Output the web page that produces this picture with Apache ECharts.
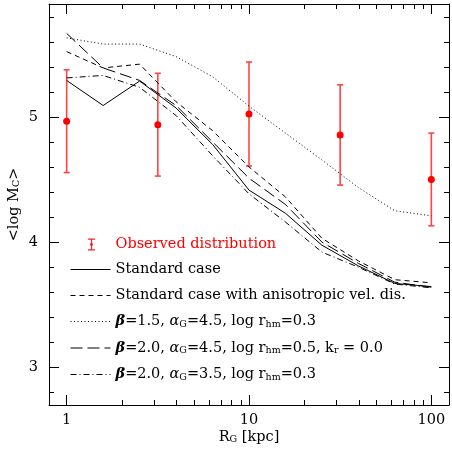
<!DOCTYPE html>
<html>
<head>
<meta charset="utf-8">
<script src="https://cdn.jsdelivr.net/npm/echarts@6/dist/echarts.min.js"></script>
<style>
  html, body { margin: 0; padding: 0; background: #fff; }
  #chart { width: 452px; height: 454px; }
</style>
</head>
<body>
<div id="chart"></div>
<script>
// galactocentric radius of the model bins (kpc)
const radius = [1, 1.585, 2.512, 3.981, 6.31, 10, 15.85, 25.12, 39.81, 63.1, 100]

const standardCase = [5.29, 5.09, 5.285, 5.07, 4.78, 4.415, 4.23, 3.975, 3.81, 3.67, 3.645]
const anisotropic = [5.52, 5.39, 5.42, 5.12, 4.89, 4.60, 4.36, 4.03, 3.85, 3.70, 3.675]
const beta15 = [5.63, 5.58, 5.58, 5.48, 5.32, 5.085, 4.87, 4.655, 4.435, 4.25, 4.21]
const beta20kr = [5.665, 5.39, 5.29, 5.09, 4.80, 4.51, 4.30, 4.00, 3.83, 3.68, 3.64]
const beta20a35 = [5.31, 5.33, 5.235, 5.01, 4.69, 4.385, 4.16, 3.92, 3.80, 3.665, 3.635]

// observed distribution: radius, mean and error
const obsRadius = [1, 3.162, 10, 31.62, 100]
const obsMean = [4.965, 4.937, 5.022, 4.855, 4.50]
const obsErr = [0.41, 0.41, 0.415, 0.40, 0.37]

const xLabels = [1, 10, 100]
const yLabels = [3, 4, 5]
const xMinor = [2, 3, 4, 5, 6, 7, 8, 9, 20, 30, 40, 50, 60, 70, 80, 90]
const yMinor = [2.8, 3.2, 3.4, 3.6, 3.8, 4.2, 4.4, 4.6, 4.8, 5.2, 5.4, 5.6, 5.8]

const X_MIN = 0.8
const X_MAX = 125
const Y_MIN = 2.7
const Y_MAX = 5.9

const FONT = 'DejaVu Serif'
const FS = 14.5

const rich = {
  t: { fontFamily: FONT, fontSize: FS, lineHeight: 16, color: '#000' },
  r: { fontFamily: FONT, fontSize: FS, lineHeight: 16, color: '#f00' },
  g: { fontFamily: FONT, fontSize: FS, lineHeight: 16, fontStyle: 'italic', color: '#000' },
  gb: { fontFamily: FONT, fontSize: FS, lineHeight: 16, fontStyle: 'italic', fontWeight: 'bold', color: '#000' },
  s: { fontFamily: FONT, fontSize: 9.5, lineHeight: 9, verticalAlign: 'bottom', color: '#000' }
}

const seriesNames = [
  'Standard case',
  'Standard case with anisotropic vel. dis.',
  'beta15',
  'beta20kr',
  'beta20a35'
]

const legendText = {
  'Observed distribution': '{r|Observed distribution}',
  'Standard case': '{t|Standard case}',
  'Standard case with anisotropic vel. dis.': '{t|Standard case with anisotropic vel. dis.}',
  beta15: '{gb|β}{t|=1.5, }{g|α}{s|G}{t|=4.5, log r}{s|hm}{t|=0.3}',
  beta20kr: '{gb|β}{t|=2.0, }{g|α}{s|G}{t|=4.5, log r}{s|hm}{t|=0.5, k}{s|r}{t| = 0.0}',
  beta20a35: '{gb|β}{t|=2.0, }{g|α}{s|G}{t|=3.5, log r}{s|hm}{t|=0.3}'
}

const pairs = (ys) => radius.map((x, i) => [x, ys[i]])

const lineSeries = (name, ys, type) => ({
  name,
  type: 'line',
  data: pairs(ys),
  showSymbol: false,
  symbol: 'none',
  silent: true,
  lineStyle: { color: '#000', width: 1, type },
  itemStyle: { color: 'rgba(0,0,0,0)', borderWidth: 0 }
})

const axisLine = { show: true, lineStyle: { color: '#000', width: 1 } }

const makeX = (position, showLabel) => ({
  type: 'log',
  logBase: 10,
  min: X_MIN,
  max: X_MAX,
  position,
  axisLine,
  axisTick: { show: true, inside: true, length: 10, lineStyle: { color: '#000' } },
  axisLabel: {
    show: showLabel,
    customValues: xLabels,
    margin: 8,
    fontFamily: FONT,
    fontSize: FS,
    color: '#000',
    formatter: (v) => String(Math.round(v))
  },
  splitLine: { show: false }
})

const makeY = (position, showLabel) => ({
  type: 'value',
  min: Y_MIN,
  max: Y_MAX,
  splitNumber: 3,
  position,
  axisLine,
  axisTick: { show: true, inside: true, length: 10, lineStyle: { color: '#000' } },
  axisLabel: {
    show: showLabel,
    customValues: yLabels,
    margin: 11,
    fontFamily: FONT,
    fontSize: FS,
    color: '#000'
  },
  splitLine: { show: false }
})

const xAxes = [makeX('bottom', true), makeX('top', false)]
Object.assign(xAxes[0], {
  name: '{t|R}{s|G}{t| [kpc]}',
  nameLocation: 'middle',
  nameGap: 24,
  nameMoveOverlap: false,
  nameTextStyle: { rich }
})

const yAxes = [makeY('left', true), makeY('right', false)]
Object.assign(yAxes[0], {
  name: '{t|<log M}{s|C}{t|>}',
  nameLocation: 'middle',
  nameRotate: 90,
  nameGap: 27,
  nameMoveOverlap: false,
  nameTextStyle: { rich }
})

const errorBarIcon = 'path://M0,0H7V1.2H4.1V4.3A2.2,2.2 0 0 1 4.1,7.7V10.8H7V12H0V10.8H2.9V7.7A2.2,2.2 0 0 1 2.9,4.3V1.2H0Z'

const tickStyle = { stroke: '#000', lineWidth: 1 }

// minor ticks on all four sides, placed through the axes' own scales
const minorTickSeries = (values, vertical) => ({
  type: 'custom',
  silent: true,
  clip: false,
  z: 3,
  data: vertical ? values.map((v) => [X_MIN, v]) : values.map((v) => [v, Y_MIN]),
  renderItem: (params, api) => {
    const cs = params.coordSys
    const p = api.coord([api.value(0), api.value(1)])
    if (vertical) {
      const y = Math.round(p[1]) + 0.5
      return {
        type: 'group',
        children: [
          { type: 'line', shape: { x1: cs.x, y1: y, x2: cs.x + 5, y2: y }, style: tickStyle },
          { type: 'line', shape: { x1: cs.x + cs.width - 5, y1: y, x2: cs.x + cs.width, y2: y }, style: tickStyle }
        ]
      }
    }
    const x = Math.round(p[0]) + 0.5
    return {
      type: 'group',
      children: [
        { type: 'line', shape: { x1: x, y1: cs.y + cs.height, x2: x, y2: cs.y + cs.height - 5 }, style: tickStyle },
        { type: 'line', shape: { x1: x, y1: cs.y, x2: x, y2: cs.y + 5 }, style: tickStyle }
      ]
    }
  }
})

const option = {
  animation: false,
  backgroundColor: '#fff',
  grid: { left: 49, right: 3, top: 4, bottom: 49, containLabel: false, outerBoundsMode: 'none' },
  xAxis: xAxes,
  yAxis: yAxes,
  legend: [
    {
      data: [{ name: 'Observed distribution', icon: errorBarIcon, itemStyle: { color: '#f22' } }],
      left: 88,
      top: 237,
      padding: 0,
      itemWidth: 38,
      itemHeight: 12,
      selectedMode: false,
      formatter: (n) => legendText[n],
      textStyle: { rich }
    },
    {
      data: seriesNames,
      orient: 'vertical',
      left: 70,
      top: 262,
      padding: 0,
      itemWidth: 40,
      itemHeight: 14,
      itemGap: 11,
      selectedMode: false,
      formatter: (n) => legendText[n],
      textStyle: { rich },
      lineStyle: { width: 1 },
      itemStyle: { color: 'rgba(0,0,0,0)', borderWidth: 0, opacity: 0 }
    }
  ],
  series: [
    lineSeries('Standard case', standardCase, 'solid'),
    lineSeries('Standard case with anisotropic vel. dis.', anisotropic, [5, 4]),
    lineSeries('beta15', beta15, [1, 2.5]),
    lineSeries('beta20kr', beta20kr, [12, 5]),
    lineSeries('beta20a35', beta20a35, [6, 3, 1, 3]),
    {
      name: 'Observed distribution',
      type: 'custom',
      silent: true,
      itemStyle: { color: '#f22' },
      data: obsRadius.map((x, i) => [x, obsMean[i], obsErr[i]]),
      renderItem: (params, api) => {
        const x = api.value(0)
        const y = api.value(1)
        const e = api.value(2)
        const mid = api.coord([x, y])
        const hi = api.coord([x, y + e])
        const lo = api.coord([x, y - e])
        const cap = 3
        const stroke = { stroke: '#f44', lineWidth: 1.6 }
        return {
          type: 'group',
          children: [
            { type: 'line', shape: { x1: mid[0], y1: hi[1], x2: mid[0], y2: lo[1] }, style: stroke },
            { type: 'line', shape: { x1: mid[0] - cap, y1: hi[1], x2: mid[0] + cap, y2: hi[1] }, style: stroke },
            { type: 'line', shape: { x1: mid[0] - cap, y1: lo[1], x2: mid[0] + cap, y2: lo[1] }, style: stroke },
            { type: 'circle', shape: { cx: mid[0], cy: mid[1], r: 3.5 }, style: { fill: '#f00' } }
          ]
        }
      }
    },
    minorTickSeries(xMinor, false),
    minorTickSeries(yMinor, true)
  ]
}

const chart = echarts.init(document.getElementById('chart'), null, { renderer: 'canvas' })
chart.setOption(option)
</script>
</body>
</html>
